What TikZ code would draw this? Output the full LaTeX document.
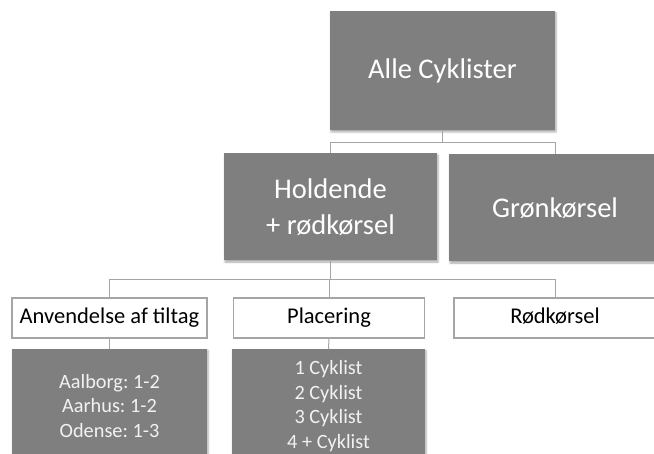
\documentclass[tikz,border=0pt]{standalone}
\usepackage{fontspec}
\setmainfont{Carlito}
\frenchspacing
\usetikzlibrary{shadows.blur}
\definecolor{boxgray}{HTML}{7F7F7F}
\definecolor{linegray}{HTML}{A5A5A5}
\definecolor{leaftext}{HTML}{F2F2F2}
\tikzset{
  graybox/.style={rectangle, fill=boxgray, draw=none, text=white, align=center, inner sep=0pt,
    blur shadow={shadow xshift=1pt, shadow yshift=-1.5pt, shadow blur steps=4, shadow opacity=35, shadow blur radius=2pt}},
  whitebox/.style={rectangle, fill=white, draw=linegray, line width=1.2pt, text=black, align=center, inner sep=0pt,
    minimum height=40pt, text height=15pt, text depth=4.5pt, font=\fontsize{22.5}{27}\selectfont},
  bigtext/.style={font=\fontsize{28.5}{36}\selectfont},
  leaf/.style={graybox, text=leaftext, minimum height=114pt, font=\fontsize{20.3}{24.8}\selectfont},
  conn/.style={draw=linegray, line width=1pt}
}
\begin{document}
\begin{tikzpicture}[x=1pt,y=-1pt]
\useasboundingbox (0,0) rectangle (654,454);
\clip (0,0) rectangle (654,454);
\node[graybox, bigtext, minimum width=225pt, minimum height=119pt] (top) at (442.5,71) {Alle Cyklister};
\node[graybox, bigtext, minimum width=213pt, minimum height=107pt] (hold) at (330.5,207) {Holdende\\+ rødkørsel};
\node[graybox, bigtext, minimum width=212pt, minimum height=107pt] (gron) at (555,208) {Grønkørsel};
\node[whitebox, minimum width=195pt] (anv) at (109.5,318) {Anvendelse af tiltag};
\node[whitebox, minimum width=191pt] (plac) at (329,318) {Placering};
\node[whitebox, minimum width=202pt] (rod) at (555,318) {Rødkørsel};
\node[leaf, minimum width=195pt] (leafa) at (109.5,406) {Aalborg: 1-2\\Aarhus: 1-2\\Odense: 1-3};
\node[leaf, minimum width=193pt] (leafb) at (328.5,406) {1 Cyklist\\2 Cyklist\\3 Cyklist\\4 + Cyklist};
\path[conn] (top.south) -- ++(0,12) -| (hold.north);
\path[conn] (top.south) -- ++(0,12) -| (gron.north);
\path[conn] (hold.south) -- ++(0,18.5) -| (anv.north);
\path[conn] (hold.south) -- ++(0,18.5) -| (plac.north);
\path[conn] (hold.south) -- ++(0,18.5) -| (rod.north);
\path[conn] (anv.south) -- (leafa.north);
\path[conn] (plac.south) -- (leafb.north);
\end{tikzpicture}
\end{document}
